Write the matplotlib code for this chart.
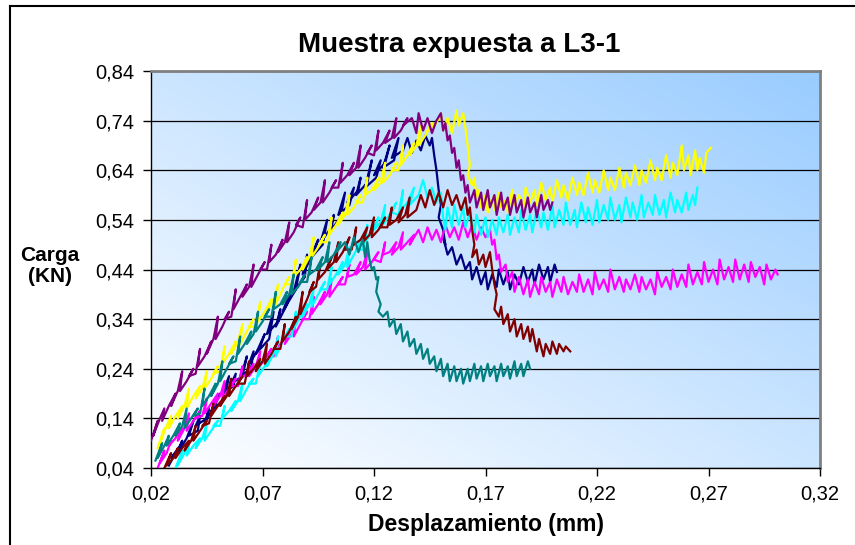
import numpy as np
import matplotlib
matplotlib.use("Agg")
import matplotlib.pyplot as plt
from matplotlib.lines import Line2D

plt.rcParams['font.family'] = ['Liberation Sans', 'DejaVu Sans']

# --- data: (desplazamiento mm, carga kN) pairs ---
navy = [(0.028, 0.045), (0.031, 0.070), (0.029, 0.060), (0.033, 0.085), (0.034, 0.095), (0.032, 0.070),
        (0.036, 0.100), (0.039, 0.135), (0.037, 0.105), (0.041, 0.115), (0.042, 0.145), (0.040, 0.125),
        (0.045, 0.140), (0.046, 0.160), (0.044, 0.130), (0.049, 0.170), (0.051, 0.190), (0.047, 0.155),
        (0.053, 0.180), (0.055, 0.225), (0.052, 0.190), (0.057, 0.205), (0.058, 0.230), (0.056, 0.210),
        (0.061, 0.225), (0.063, 0.265), (0.060, 0.220), (0.065, 0.245), (0.066, 0.275), (0.064, 0.250),
        (0.069, 0.285), (0.071, 0.310), (0.067, 0.270), (0.073, 0.300), (0.075, 0.355), (0.072, 0.310),
        (0.077, 0.335), (0.078, 0.360), (0.076, 0.325), (0.081, 0.370), (0.083, 0.400), (0.079, 0.355),
        (0.085, 0.400), (0.087, 0.450), (0.084, 0.395), (0.089, 0.425), (0.090, 0.470), (0.088, 0.430),
        (0.093, 0.475), (0.095, 0.500), (0.091, 0.460), (0.097, 0.490), (0.099, 0.540), (0.096, 0.495),
        (0.101, 0.525), (0.102, 0.550), (0.100, 0.515), (0.105, 0.545), (0.107, 0.595), (0.104, 0.550),
        (0.109, 0.570), (0.111, 0.605), (0.108, 0.575), (0.113, 0.600), (0.114, 0.625), (0.112, 0.590),
        (0.117, 0.615), (0.119, 0.660), (0.116, 0.605), (0.121, 0.625), (0.123, 0.660), (0.120, 0.630),
        (0.125, 0.655), (0.127, 0.690), (0.124, 0.645), (0.129, 0.660), (0.131, 0.705), (0.128, 0.665),
        (0.133, 0.680), (0.135, 0.705), (0.137, 0.675), (0.139, 0.700), (0.141, 0.680), (0.143, 0.710),
        (0.145, 0.690), (0.146, 0.705), (0.147, 0.670), (0.148, 0.640), (0.149, 0.600), (0.150, 0.570),
        (0.149, 0.545), (0.151, 0.520), (0.152, 0.490), (0.151, 0.505), (0.153, 0.470), (0.155, 0.485),
        (0.157, 0.450), (0.159, 0.470), (0.161, 0.440), (0.163, 0.455), (0.164, 0.420), (0.166, 0.445),
        (0.168, 0.410), (0.170, 0.435), (0.171, 0.400), (0.173, 0.430), (0.175, 0.405), (0.176, 0.440),
        (0.178, 0.410), (0.180, 0.435), (0.181, 0.400), (0.183, 0.430), (0.185, 0.410), (0.187, 0.445),
        (0.189, 0.415), (0.191, 0.440), (0.192, 0.410), (0.194, 0.450), (0.196, 0.420), (0.198, 0.445),
        (0.199, 0.415), (0.201, 0.450), (0.202, 0.435)]

magenta = [(0.023, 0.040), (0.026, 0.075), (0.024, 0.050), (0.027, 0.070), (0.029, 0.095), (0.028, 0.085),
           (0.031, 0.100), (0.034, 0.120), (0.032, 0.095), (0.035, 0.120), (0.037, 0.150), (0.036, 0.115),
           (0.039, 0.135), (0.042, 0.155), (0.040, 0.140), (0.043, 0.145), (0.045, 0.180), (0.044, 0.150),
           (0.047, 0.170), (0.050, 0.190), (0.048, 0.165), (0.051, 0.185), (0.053, 0.215), (0.052, 0.180),
           (0.055, 0.200), (0.058, 0.220), (0.056, 0.205), (0.059, 0.205), (0.061, 0.245), (0.060, 0.220),
           (0.063, 0.230), (0.066, 0.250), (0.064, 0.225), (0.067, 0.245), (0.069, 0.275), (0.068, 0.240),
           (0.071, 0.260), (0.074, 0.280), (0.072, 0.265), (0.075, 0.265), (0.077, 0.305), (0.076, 0.280),
           (0.079, 0.295), (0.082, 0.315), (0.080, 0.290), (0.083, 0.310), (0.085, 0.345), (0.084, 0.305),
           (0.087, 0.330), (0.090, 0.355), (0.088, 0.340), (0.091, 0.340), (0.093, 0.385), (0.092, 0.350),
           (0.095, 0.370), (0.098, 0.395), (0.096, 0.370), (0.099, 0.390), (0.101, 0.420), (0.100, 0.385),
           (0.103, 0.405), (0.106, 0.425), (0.104, 0.410), (0.107, 0.410), (0.109, 0.450), (0.108, 0.425),
           (0.111, 0.430), (0.114, 0.455), (0.112, 0.430), (0.115, 0.445), (0.117, 0.475), (0.116, 0.440),
           (0.119, 0.455), (0.122, 0.475), (0.120, 0.460), (0.123, 0.455), (0.125, 0.495), (0.124, 0.470),
           (0.127, 0.475), (0.130, 0.495), (0.128, 0.470), (0.131, 0.485), (0.133, 0.515), (0.132, 0.480),
           (0.135, 0.495), (0.138, 0.510), (0.136, 0.490), (0.140, 0.520), (0.142, 0.495), (0.144, 0.525),
           (0.146, 0.500), (0.148, 0.520), (0.150, 0.495), (0.152, 0.530), (0.154, 0.505), (0.156, 0.525),
           (0.158, 0.500), (0.160, 0.535), (0.162, 0.505), (0.164, 0.530), (0.166, 0.500), (0.168, 0.525),
           (0.170, 0.505), (0.172, 0.520), (0.173, 0.490), (0.174, 0.500), (0.175, 0.460), (0.176, 0.470),
           (0.177, 0.435), (0.179, 0.450), (0.180, 0.415), (0.182, 0.435), (0.183, 0.395), (0.185, 0.425),
           (0.187, 0.390), (0.189, 0.420), (0.190, 0.385), (0.192, 0.415), (0.194, 0.390), (0.195, 0.425),
           (0.197, 0.395), (0.199, 0.415), (0.200, 0.385), (0.202, 0.420), (0.204, 0.395), (0.205, 0.425),
           (0.207, 0.390), (0.209, 0.415), (0.211, 0.395), (0.212, 0.430), (0.214, 0.395), (0.216, 0.420),
           (0.218, 0.390), (0.219, 0.435), (0.221, 0.400), (0.223, 0.420), (0.225, 0.395), (0.226, 0.440),
           (0.228, 0.400), (0.230, 0.425), (0.232, 0.395), (0.233, 0.420), (0.235, 0.400), (0.237, 0.430),
           (0.239, 0.395), (0.240, 0.425), (0.242, 0.400), (0.244, 0.420), (0.246, 0.390), (0.247, 0.435),
           (0.249, 0.405), (0.251, 0.425), (0.253, 0.400), (0.254, 0.440), (0.256, 0.405), (0.258, 0.430),
           (0.260, 0.405), (0.261, 0.450), (0.263, 0.410), (0.265, 0.435), (0.267, 0.410), (0.268, 0.455),
           (0.270, 0.415), (0.272, 0.440), (0.274, 0.410), (0.275, 0.460), (0.277, 0.420), (0.279, 0.445),
           (0.281, 0.415), (0.282, 0.460), (0.284, 0.420), (0.286, 0.450), (0.288, 0.415), (0.289, 0.455),
           (0.291, 0.425), (0.293, 0.445), (0.295, 0.410), (0.296, 0.450), (0.298, 0.420), (0.300, 0.440),
           (0.301, 0.430)]

yellow = [(0.023, 0.080), (0.026, 0.120), (0.024, 0.090), (0.027, 0.125), (0.029, 0.145), (0.028, 0.120),
          (0.031, 0.145), (0.034, 0.165), (0.032, 0.140), (0.035, 0.165), (0.037, 0.200), (0.036, 0.160),
          (0.039, 0.185), (0.042, 0.205), (0.040, 0.180), (0.043, 0.200), (0.045, 0.235), (0.044, 0.200),
          (0.047, 0.220), (0.050, 0.245), (0.048, 0.230), (0.051, 0.235), (0.053, 0.285), (0.052, 0.250),
          (0.055, 0.270), (0.058, 0.295), (0.056, 0.270), (0.059, 0.295), (0.061, 0.330), (0.060, 0.290),
          (0.063, 0.315), (0.066, 0.340), (0.064, 0.325), (0.067, 0.325), (0.069, 0.375), (0.068, 0.335),
          (0.071, 0.355), (0.074, 0.380), (0.072, 0.355), (0.075, 0.380), (0.077, 0.410), (0.076, 0.370),
          (0.079, 0.400), (0.082, 0.425), (0.080, 0.410), (0.083, 0.410), (0.085, 0.460), (0.084, 0.425),
          (0.087, 0.440), (0.090, 0.465), (0.088, 0.440), (0.091, 0.465), (0.093, 0.505), (0.092, 0.465),
          (0.095, 0.485), (0.098, 0.510), (0.096, 0.495), (0.099, 0.495), (0.101, 0.545), (0.100, 0.510),
          (0.103, 0.530), (0.106, 0.555), (0.104, 0.530), (0.107, 0.550), (0.109, 0.590), (0.108, 0.550),
          (0.111, 0.565), (0.114, 0.590), (0.112, 0.575), (0.115, 0.575), (0.117, 0.625), (0.116, 0.590),
          (0.119, 0.600), (0.122, 0.625), (0.120, 0.600), (0.123, 0.615), (0.125, 0.655), (0.124, 0.615),
          (0.127, 0.630), (0.130, 0.655), (0.128, 0.640), (0.131, 0.640), (0.133, 0.690), (0.132, 0.650),
          (0.135, 0.670), (0.138, 0.695), (0.136, 0.670), (0.139, 0.690), (0.141, 0.730), (0.140, 0.690),
          (0.143, 0.710), (0.146, 0.735), (0.144, 0.720), (0.148, 0.735), (0.150, 0.755), (0.151, 0.720),
          (0.153, 0.745), (0.155, 0.715), (0.157, 0.760), (0.158, 0.730), (0.160, 0.755), (0.161, 0.725),
          (0.162, 0.690), (0.163, 0.650), (0.162, 0.630), (0.164, 0.610), (0.165, 0.625), (0.166, 0.585),
          (0.167, 0.600), (0.168, 0.565), (0.170, 0.590), (0.171, 0.555), (0.173, 0.585), (0.174, 0.560),
          (0.176, 0.595), (0.177, 0.565), (0.179, 0.580), (0.180, 0.555), (0.182, 0.600), (0.183, 0.570),
          (0.185, 0.590), (0.187, 0.565), (0.188, 0.605), (0.190, 0.575), (0.192, 0.600), (0.193, 0.570),
          (0.195, 0.615), (0.197, 0.580), (0.199, 0.605), (0.200, 0.575), (0.202, 0.620), (0.204, 0.585),
          (0.205, 0.610), (0.207, 0.580), (0.209, 0.625), (0.211, 0.590), (0.212, 0.615), (0.214, 0.590),
          (0.216, 0.635), (0.218, 0.595), (0.219, 0.620), (0.221, 0.595), (0.223, 0.640), (0.225, 0.600),
          (0.226, 0.625), (0.228, 0.600), (0.230, 0.645), (0.232, 0.605), (0.233, 0.635), (0.235, 0.610),
          (0.237, 0.650), (0.239, 0.610), (0.240, 0.640), (0.242, 0.615), (0.244, 0.660), (0.246, 0.620),
          (0.247, 0.645), (0.249, 0.620), (0.251, 0.670), (0.253, 0.625), (0.254, 0.655), (0.256, 0.630),
          (0.258, 0.690), (0.259, 0.640), (0.261, 0.670), (0.262, 0.630), (0.264, 0.680), (0.265, 0.640),
          (0.266, 0.665), (0.268, 0.635), (0.269, 0.675), (0.270, 0.680), (0.271, 0.685)]

cyan = [(0.031, 0.040), (0.034, 0.075), (0.032, 0.045), (0.035, 0.070), (0.037, 0.085), (0.036, 0.065),
        (0.039, 0.085), (0.042, 0.100), (0.040, 0.080), (0.043, 0.100), (0.045, 0.130), (0.044, 0.095),
        (0.047, 0.115), (0.050, 0.135), (0.048, 0.125), (0.051, 0.125), (0.053, 0.165), (0.052, 0.140),
        (0.055, 0.155), (0.058, 0.175), (0.056, 0.155), (0.059, 0.175), (0.061, 0.210), (0.060, 0.175),
        (0.063, 0.200), (0.066, 0.220), (0.064, 0.210), (0.067, 0.210), (0.069, 0.255), (0.068, 0.225),
        (0.071, 0.245), (0.074, 0.270), (0.072, 0.245), (0.075, 0.270), (0.077, 0.305), (0.076, 0.265),
        (0.079, 0.295), (0.082, 0.320), (0.080, 0.305), (0.083, 0.305), (0.085, 0.355), (0.084, 0.320),
        (0.087, 0.345), (0.090, 0.370), (0.088, 0.345), (0.091, 0.370), (0.093, 0.405), (0.092, 0.365),
        (0.095, 0.390), (0.098, 0.415), (0.096, 0.400), (0.099, 0.400), (0.101, 0.445), (0.100, 0.410),
        (0.103, 0.430), (0.106, 0.455), (0.104, 0.430), (0.107, 0.450), (0.109, 0.485), (0.108, 0.445),
        (0.111, 0.470), (0.114, 0.495), (0.112, 0.480), (0.115, 0.480), (0.117, 0.530), (0.116, 0.495),
        (0.119, 0.515), (0.122, 0.545), (0.120, 0.520), (0.123, 0.535), (0.125, 0.570), (0.124, 0.530),
        (0.127, 0.550), (0.130, 0.575), (0.128, 0.555), (0.131, 0.550), (0.133, 0.600), (0.132, 0.560),
        (0.135, 0.575), (0.138, 0.605), (0.136, 0.570), (0.140, 0.590), (0.142, 0.620), (0.144, 0.585),
        (0.146, 0.605), (0.148, 0.575), (0.150, 0.595), (0.151, 0.545), (0.152, 0.520), (0.153, 0.565),
        (0.155, 0.525), (0.156, 0.570), (0.158, 0.530), (0.160, 0.565), (0.161, 0.525), (0.163, 0.555),
        (0.165, 0.515), (0.166, 0.550), (0.168, 0.510), (0.170, 0.545), (0.171, 0.505), (0.173, 0.540),
        (0.175, 0.510), (0.176, 0.545), (0.178, 0.515), (0.180, 0.550), (0.181, 0.510), (0.183, 0.545),
        (0.185, 0.515), (0.186, 0.560), (0.188, 0.520), (0.190, 0.550), (0.191, 0.515), (0.193, 0.560),
        (0.195, 0.525), (0.196, 0.555), (0.198, 0.520), (0.200, 0.570), (0.201, 0.525), (0.203, 0.560),
        (0.205, 0.530), (0.206, 0.575), (0.208, 0.530), (0.210, 0.560), (0.211, 0.525), (0.213, 0.575),
        (0.215, 0.535), (0.216, 0.565), (0.218, 0.530), (0.220, 0.580), (0.221, 0.535), (0.223, 0.570),
        (0.225, 0.540), (0.226, 0.585), (0.228, 0.540), (0.230, 0.570), (0.231, 0.535), (0.233, 0.585),
        (0.235, 0.545), (0.236, 0.575), (0.238, 0.540), (0.240, 0.590), (0.241, 0.545), (0.243, 0.575),
        (0.245, 0.550), (0.246, 0.590), (0.248, 0.550), (0.250, 0.580), (0.251, 0.545), (0.253, 0.595),
        (0.255, 0.555), (0.256, 0.580), (0.258, 0.555), (0.260, 0.595), (0.261, 0.560), (0.263, 0.590),
        (0.264, 0.570), (0.265, 0.605)]

purple = [(0.020, 0.095), (0.023, 0.135), (0.021, 0.105), (0.024, 0.140), (0.026, 0.160), (0.025, 0.135),
          (0.028, 0.165), (0.031, 0.190), (0.029, 0.165), (0.032, 0.195), (0.034, 0.235), (0.033, 0.195),
          (0.036, 0.215), (0.039, 0.240), (0.037, 0.225), (0.040, 0.230), (0.042, 0.280), (0.041, 0.245),
          (0.044, 0.265), (0.047, 0.295), (0.045, 0.270), (0.048, 0.300), (0.050, 0.345), (0.049, 0.300),
          (0.052, 0.325), (0.055, 0.355), (0.053, 0.340), (0.056, 0.345), (0.058, 0.400), (0.057, 0.360),
          (0.060, 0.385), (0.063, 0.410), (0.061, 0.385), (0.064, 0.405), (0.066, 0.450), (0.065, 0.405),
          (0.068, 0.430), (0.071, 0.455), (0.069, 0.440), (0.072, 0.440), (0.074, 0.490), (0.073, 0.455),
          (0.076, 0.470), (0.079, 0.500), (0.077, 0.475), (0.080, 0.495), (0.082, 0.535), (0.081, 0.495),
          (0.084, 0.515), (0.087, 0.545), (0.085, 0.530), (0.088, 0.525), (0.090, 0.580), (0.089, 0.540),
          (0.092, 0.555), (0.095, 0.585), (0.093, 0.560), (0.096, 0.575), (0.098, 0.620), (0.097, 0.575),
          (0.100, 0.595), (0.103, 0.620), (0.101, 0.605), (0.104, 0.605), (0.106, 0.655), (0.105, 0.615),
          (0.108, 0.630), (0.111, 0.655), (0.109, 0.630), (0.112, 0.645), (0.114, 0.690), (0.113, 0.645),
          (0.116, 0.665), (0.119, 0.690), (0.117, 0.675), (0.120, 0.670), (0.122, 0.720), (0.121, 0.680),
          (0.124, 0.695), (0.127, 0.720), (0.125, 0.695), (0.128, 0.705), (0.130, 0.745), (0.129, 0.705),
          (0.132, 0.720), (0.135, 0.745), (0.133, 0.730), (0.137, 0.745), (0.139, 0.715), (0.140, 0.755),
          (0.142, 0.720), (0.144, 0.745), (0.146, 0.715), (0.148, 0.740), (0.150, 0.755), (0.151, 0.720),
          (0.152, 0.735), (0.153, 0.700), (0.154, 0.710), (0.155, 0.675), (0.156, 0.685), (0.157, 0.645),
          (0.158, 0.660), (0.159, 0.620), (0.160, 0.630), (0.161, 0.595), (0.162, 0.610), (0.163, 0.575),
          (0.165, 0.600), (0.166, 0.565), (0.168, 0.595), (0.169, 0.560), (0.171, 0.600), (0.172, 0.565),
          (0.174, 0.590), (0.175, 0.550), (0.177, 0.595), (0.178, 0.560), (0.180, 0.585), (0.181, 0.550),
          (0.183, 0.590), (0.184, 0.555), (0.186, 0.580), (0.187, 0.545), (0.189, 0.585), (0.190, 0.555),
          (0.192, 0.575), (0.193, 0.545), (0.195, 0.590), (0.196, 0.560), (0.198, 0.580), (0.199, 0.560),
          (0.200, 0.575)]

maroon = [(0.026, 0.040), (0.029, 0.070), (0.027, 0.045), (0.030, 0.060), (0.032, 0.080), (0.031, 0.060),
          (0.034, 0.080), (0.037, 0.095), (0.035, 0.075), (0.038, 0.095), (0.040, 0.125), (0.039, 0.095),
          (0.042, 0.115), (0.045, 0.135), (0.043, 0.125), (0.046, 0.130), (0.048, 0.170), (0.047, 0.145),
          (0.050, 0.165), (0.053, 0.185), (0.051, 0.165), (0.054, 0.185), (0.056, 0.220), (0.055, 0.185),
          (0.058, 0.205), (0.061, 0.225), (0.059, 0.210), (0.062, 0.210), (0.064, 0.255), (0.063, 0.225),
          (0.066, 0.240), (0.069, 0.260), (0.067, 0.235), (0.070, 0.255), (0.072, 0.290), (0.071, 0.250),
          (0.074, 0.270), (0.077, 0.295), (0.075, 0.280), (0.078, 0.280), (0.080, 0.330), (0.079, 0.295),
          (0.082, 0.315), (0.085, 0.345), (0.083, 0.320), (0.086, 0.345), (0.088, 0.395), (0.087, 0.350),
          (0.090, 0.380), (0.093, 0.415), (0.091, 0.395), (0.094, 0.405), (0.096, 0.455), (0.095, 0.420),
          (0.098, 0.435), (0.101, 0.465), (0.099, 0.440), (0.102, 0.455), (0.104, 0.495), (0.103, 0.455),
          (0.106, 0.475), (0.109, 0.505), (0.107, 0.480), (0.110, 0.480), (0.112, 0.525), (0.111, 0.490),
          (0.114, 0.500), (0.117, 0.525), (0.115, 0.495), (0.118, 0.510), (0.120, 0.545), (0.119, 0.505),
          (0.122, 0.520), (0.125, 0.545), (0.123, 0.525), (0.126, 0.525), (0.128, 0.565), (0.127, 0.530),
          (0.130, 0.540), (0.133, 0.565), (0.131, 0.535), (0.134, 0.550), (0.136, 0.585), (0.135, 0.545),
          (0.139, 0.560), (0.141, 0.590), (0.143, 0.565), (0.145, 0.600), (0.147, 0.570), (0.149, 0.595),
          (0.151, 0.565), (0.153, 0.600), (0.155, 0.570), (0.157, 0.590), (0.159, 0.560), (0.161, 0.585),
          (0.162, 0.550), (0.163, 0.565), (0.164, 0.520), (0.165, 0.490), (0.164, 0.465), (0.166, 0.480),
          (0.167, 0.450), (0.169, 0.470), (0.170, 0.445), (0.172, 0.475), (0.173, 0.440), (0.174, 0.410),
          (0.175, 0.390), (0.174, 0.360), (0.176, 0.345), (0.177, 0.365), (0.178, 0.330), (0.180, 0.350),
          (0.181, 0.315), (0.183, 0.340), (0.184, 0.305), (0.186, 0.330), (0.187, 0.300), (0.189, 0.325),
          (0.190, 0.295), (0.191, 0.320), (0.193, 0.275), (0.194, 0.300), (0.196, 0.265), (0.197, 0.290),
          (0.199, 0.270), (0.200, 0.295), (0.202, 0.270), (0.203, 0.290), (0.205, 0.275), (0.206, 0.285),
          (0.208, 0.275)]

teal = [(0.022, 0.055), (0.025, 0.090), (0.023, 0.060), (0.026, 0.085), (0.028, 0.105), (0.027, 0.085),
        (0.030, 0.105), (0.033, 0.130), (0.031, 0.105), (0.034, 0.125), (0.036, 0.160), (0.035, 0.120),
        (0.038, 0.140), (0.041, 0.160), (0.039, 0.145), (0.042, 0.150), (0.044, 0.200), (0.043, 0.165),
        (0.046, 0.185), (0.049, 0.210), (0.047, 0.185), (0.050, 0.210), (0.052, 0.255), (0.051, 0.215),
        (0.054, 0.240), (0.057, 0.265), (0.055, 0.250), (0.058, 0.255), (0.060, 0.305), (0.059, 0.270),
        (0.062, 0.290), (0.065, 0.315), (0.063, 0.290), (0.066, 0.310), (0.068, 0.355), (0.067, 0.315),
        (0.070, 0.335), (0.073, 0.360), (0.071, 0.345), (0.074, 0.345), (0.076, 0.395), (0.075, 0.360),
        (0.078, 0.370), (0.081, 0.395), (0.079, 0.370), (0.082, 0.390), (0.084, 0.430), (0.083, 0.390),
        (0.086, 0.405), (0.089, 0.430), (0.087, 0.415), (0.090, 0.415), (0.092, 0.465), (0.091, 0.430),
        (0.094, 0.440), (0.097, 0.465), (0.095, 0.440), (0.098, 0.455), (0.100, 0.495), (0.099, 0.455),
        (0.102, 0.470), (0.105, 0.495), (0.103, 0.475), (0.107, 0.495), (0.109, 0.470), (0.111, 0.505),
        (0.113, 0.475), (0.115, 0.500), (0.116, 0.465), (0.117, 0.495), (0.118, 0.460), (0.119, 0.440),
        (0.120, 0.445), (0.121, 0.420), (0.122, 0.425), (0.121, 0.395), (0.123, 0.370), (0.122, 0.355),
        (0.124, 0.345), (0.126, 0.355), (0.127, 0.325), (0.129, 0.340), (0.130, 0.310), (0.132, 0.330),
        (0.133, 0.295), (0.135, 0.315), (0.136, 0.285), (0.138, 0.300), (0.139, 0.270), (0.141, 0.290),
        (0.142, 0.260), (0.144, 0.280), (0.145, 0.250), (0.147, 0.265), (0.148, 0.235), (0.150, 0.260),
        (0.151, 0.225), (0.153, 0.250), (0.154, 0.215), (0.156, 0.245), (0.157, 0.215), (0.159, 0.240),
        (0.160, 0.210), (0.162, 0.240), (0.163, 0.215), (0.165, 0.250), (0.166, 0.220), (0.168, 0.245),
        (0.169, 0.215), (0.171, 0.250), (0.172, 0.225), (0.174, 0.245), (0.175, 0.215), (0.177, 0.250),
        (0.178, 0.225), (0.180, 0.245), (0.181, 0.220), (0.183, 0.255), (0.184, 0.225), (0.186, 0.250),
        (0.187, 0.225), (0.189, 0.255), (0.190, 0.240)]

# Excel default series order / colours
series = [(navy, '#000080'), (magenta, '#FF00FF'), (yellow, '#FFFF00'), (cyan, '#00FFFF'),
          (purple, '#800080'), (maroon, '#800000'), (teal, '#008080')]

x_ticks = [0.02, 0.07, 0.12, 0.17, 0.22, 0.27, 0.32]
y_ticks = [0.04, 0.14, 0.24, 0.34, 0.44, 0.54, 0.64, 0.74, 0.84]

W, H = 855, 545
fig = plt.figure(figsize=(W / 100, H / 100), dpi=100)
ax = fig.add_axes([151 / W, 1 - 468 / H, (820 - 151) / W, (468 - 71) / H])

# diagonal gradient background (white bottom-left -> light blue top-right)
u = np.linspace(0, 1, 200)
gx, gy = np.meshgrid(u, u[::-1])
t = (gx + gy) / 2
c0 = np.array([1.0, 1.0, 1.0])
c1 = np.array([153, 204, 255]) / 255
img = c0 * (1 - t[..., None]) + c1 * t[..., None]
ax.imshow(img, extent=[0.02, 0.32, 0.04, 0.84], aspect='auto', zorder=0, interpolation='bilinear')

for pts, col in series:
    xs, ys = zip(*pts)
    ax.plot(xs, ys, color=col, lw=1.6, zorder=3)

ax.set_xlim(0.02, 0.32)
ax.set_ylim(0.04, 0.84)
ax.set_xticks(x_ticks)
ax.set_yticks(y_ticks)
ax.set_xticklabels([f"{v:.2f}".replace('.', ',') for v in x_ticks], fontsize=14.5)
ax.set_yticklabels([f"{v:.2f}".replace('.', ',') for v in y_ticks], fontsize=14.5)
ax.tick_params(direction='out', length=6, width=1, color='black', pad=6)
ax.yaxis.grid(True, color='black', lw=0.9, zorder=1)
ax.set_axisbelow(True)

for s in ['left', 'bottom']:
    ax.spines[s].set_color('black')
    ax.spines[s].set_linewidth(1.0)
for s in ['top', 'right']:
    ax.spines[s].set_color('#808080')
    ax.spines[s].set_linewidth(2.0)

fig.text(459 / W, 1 - 45 / H, "Muestra expuesta a L3-1", ha='center', va='center',
         fontsize=20, fontweight='bold')
fig.text(486 / W, 1 - 525 / H, "Desplazamiento (mm)", ha='center', va='center',
         fontsize=16.5, fontweight='bold')
fig.text(50 / W, 1 - 266 / H, "Carga\n(KN)", ha='center', va='center', multialignment='center',
         fontsize=15, fontweight='bold', linespacing=1.1)

# outer chart frame
fig.add_artist(Line2D([10 / W, 10 / W], [0, 1 - 6 / H], color='black', lw=1.5))
fig.add_artist(Line2D([10 / W, 1], [1 - 6 / H, 1 - 6 / H], color='black', lw=1.5))

fig.savefig("out.png", dpi=100)
